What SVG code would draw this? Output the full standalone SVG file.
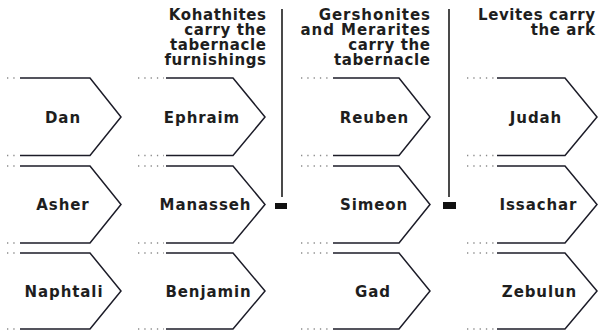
<svg xmlns="http://www.w3.org/2000/svg" width="606" height="332" viewBox="0 0 606 332">
  <style>
    .edge { fill: none; stroke: #1c1c28; stroke-width: 1.5; stroke-linejoin: miter; }
    .dots { fill: none; stroke: #8a8a8a; stroke-width: 1.3; stroke-dasharray: 1.3 5; }
    .lbl { font-family: "DejaVu Sans", "Liberation Sans", sans-serif; font-weight: bold; font-size: 15px; letter-spacing: 0.9px; fill: #1e1e1e; text-anchor: middle; }
    .hdr { font-family: "DejaVu Sans", "Liberation Sans", sans-serif; font-weight: bold; font-size: 15px; letter-spacing: 0.6px; fill: #1e1e1e; text-anchor: end; }
    .wide { letter-spacing: 0.95px; }
    .div { stroke: #1c1c1c; stroke-width: 1.6; }
  </style>
  <rect width="606" height="332" fill="#ffffff"/>

  <g id="headers">
    <text class="hdr" y="19.5"><tspan x="266.6">Kohathites</tspan><tspan x="266.6" dy="15.3">carry the</tspan><tspan x="266.6" dy="15.3">tabernacle</tspan><tspan x="266.6" dy="15.3">furnishings</tspan></text>
    <text class="hdr" y="19.5"><tspan class="wide" x="431">Gershonites</tspan><tspan class="wide" x="431" dy="15.3">and Merarites</tspan><tspan x="430.6" dy="15.3">carry the</tspan><tspan x="430.6" dy="15.3">tabernacle</tspan></text>
    <text class="hdr" y="19.5"><tspan x="595.6">Levites carry</tspan><tspan x="595.6" dy="15.3">the ark</tspan></text>
  </g>

  <g id="connectors">
    <line class="div" x1="282" y1="9" x2="282" y2="197"/>
    <rect x="275" y="203" width="12" height="6" fill="#111"/>
    <line class="div" x1="449" y1="9" x2="449" y2="197"/>
    <rect x="443" y="202" width="13" height="7" fill="#111"/>
  </g>

  <!-- Column 1 -->
  <g id="dan">
    <path class="dots" d="M7,78 H18 M7,155.5 H18"/>
    <path class="edge" d="M20,78 H90 L121,117 L90,155.5 H20"/>
    <text class="lbl" x="63" y="122.5">Dan</text>
  </g>
  <g id="asher">
    <path class="dots" d="M7,166 H18 M7,243 H18"/>
    <path class="edge" d="M20,166 H90 L121,204.5 L90,243 H20"/>
    <text class="lbl" x="63" y="210">Asher</text>
  </g>
  <g id="naphtali">
    <path class="dots" d="M7,253 H18 M7,329 H18"/>
    <path class="edge" d="M20,253 H90 L121,291 L90,329 H20"/>
    <text class="lbl" x="64" y="297">Naphtali</text>
  </g>

  <!-- Column 2 -->
  <g id="ephraim">
    <path class="dots" d="M138,78 H164 M138,155.5 H164"/>
    <path class="edge" d="M166,78 H233 L265,117 L233,155.5 H166"/>
    <text class="lbl" x="202" y="122.5">Ephraim</text>
  </g>
  <g id="manasseh">
    <path class="dots" d="M138,166 H164 M138,243 H164"/>
    <path class="edge" d="M166,166 H233 L265,204.5 L233,243 H166"/>
    <text class="lbl" x="205.5" y="210">Manasseh</text>
  </g>
  <g id="benjamin">
    <path class="dots" d="M138,253 H164 M138,329 H164"/>
    <path class="edge" d="M166,253 H233 L265,291 L233,329 H166"/>
    <text class="lbl" x="208.5" y="297">Benjamin</text>
  </g>

  <!-- Column 3 -->
  <g id="reuben">
    <path class="dots" d="M301,78 H331 M301,155.5 H331"/>
    <path class="edge" d="M333,78 H399 L430,117 L399,155.5 H333"/>
    <text class="lbl" x="374.5" y="122.5">Reuben</text>
  </g>
  <g id="simeon">
    <path class="dots" d="M301,166 H331 M301,243 H331"/>
    <path class="edge" d="M333,166 H399 L430,204.5 L399,243 H333"/>
    <text class="lbl" x="374" y="210">Simeon</text>
  </g>
  <g id="gad">
    <path class="dots" d="M301,253 H331 M301,329 H331"/>
    <path class="edge" d="M333,253 H399 L430,291 L399,329 H333"/>
    <text class="lbl" x="373" y="297">Gad</text>
  </g>

  <!-- Column 4 -->
  <g id="judah">
    <path class="dots" d="M467,78 H495 M467,155.5 H495"/>
    <path class="edge" d="M497,78 H565 L597,117 L565,155.5 H497"/>
    <text class="lbl" x="536" y="122.5">Judah</text>
  </g>
  <g id="issachar">
    <path class="dots" d="M467,166 H495 M467,243 H495"/>
    <path class="edge" d="M497,166 H565 L597,204.5 L565,243 H497"/>
    <text class="lbl" x="538.5" y="210">Issachar</text>
  </g>
  <g id="zebulun">
    <path class="dots" d="M467,253 H495 M467,329 H495"/>
    <path class="edge" d="M497,253 H565 L597,291 L565,329 H497"/>
    <text class="lbl" x="539.5" y="297">Zebulun</text>
  </g>
</svg>
